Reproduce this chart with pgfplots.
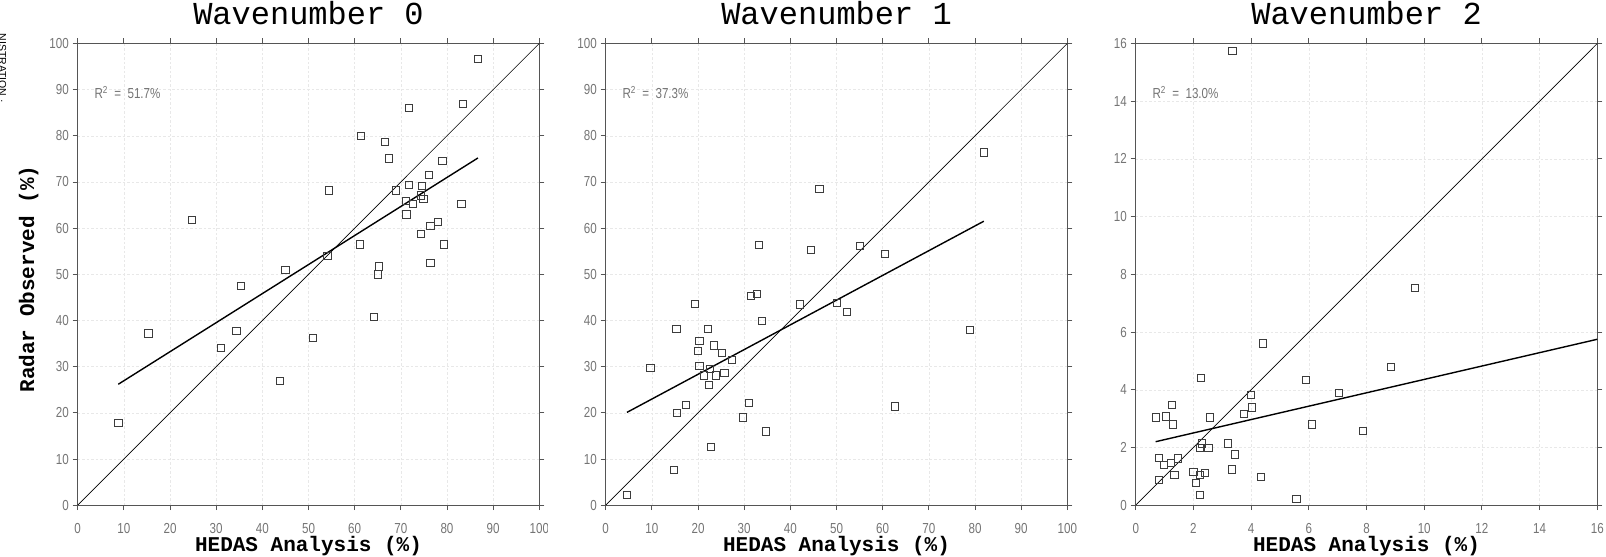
\documentclass[border=0pt]{standalone}
\usepackage{pgfplots}
\pgfplotsset{compat=1.18}
\usepackage{fontspec}
\setmainfont{Liberation Sans}
\newfontfamily\monofont{Liberation Mono}
\newfontfamily\tickfont[FakeStretch=0.8]{Liberation Sans}

\definecolor{axisgray}{HTML}{555555}
\definecolor{ticktext}{HTML}{747474}
\definecolor{gridgray}{HTML}{E8E8E8}
\definecolor{markgray}{HTML}{3C3C3C}

% HEDAS analysis vs radar observed, wavenumber 0
\pgfplotstableread{
x y
86.7 96.7
83.4 86.9
71.7 86.1
61.4 79.9
66.5 78.7
67.5 75.1
79.0 74.6
76.1 71.6
54.4 68.2
69.0 68.2
71.8 69.3
74.5 69.2
74.3 67.1
74.9 66.4
71.1 65.9
72.6 65.3
83.1 65.2
71.2 63.0
24.8 61.8
78.0 61.4
76.4 60.5
74.3 58.7
61.1 56.5
79.3 56.5
54.1 54.0
76.4 52.4
65.2 51.7
45.0 50.9
65.1 50.0
35.3 47.5
64.1 40.7
15.3 37.2
34.4 37.8
50.9 36.3
31.1 34.1
43.8 26.9
8.8 17.8
}\wavezero

% wavenumber 1
\pgfplotstableread{
x y
81.9 76.4
46.3 68.5
33.2 56.3
44.4 55.3
55.0 56.1
60.4 54.5
32.8 45.8
31.5 45.4
19.4 43.6
42.0 43.5
50.0 43.9
52.3 41.9
33.9 40.0
15.3 38.2
22.1 38.2
78.9 37.9
20.3 35.5
23.5 34.6
20.0 33.5
25.2 32.9
27.4 31.4
9.7 29.8
20.3 30.1
22.6 29.6
21.3 28.1
23.9 28.1
25.7 28.6
22.3 26.1
17.4 21.8
31.1 22.2
62.7 21.4
15.4 20.0
29.7 19.0
34.7 16.0
22.7 12.6
14.7 7.7
4.6 2.3
}\waveone

% wavenumber 2
\pgfplotstableread{
x y
3.35 15.73
9.67 7.54
4.41 5.61
8.85 4.80
2.25 4.40
5.89 4.35
7.05 3.90
4.00 3.83
1.24 3.48
4.04 3.39
3.74 3.17
0.69 3.04
1.05 3.08
2.57 3.04
1.30 2.80
6.11 2.80
7.87 2.58
3.19 2.14
2.29 2.14
2.23 1.99
2.52 1.99
3.44 1.76
0.79 1.63
1.46 1.62
1.23 1.46
0.97 1.41
3.33 1.24
2.00 1.14
2.39 1.12
2.23 1.06
1.34 1.04
4.34 0.98
0.81 0.87
2.09 0.77
2.23 0.37
5.57 0.21
}\wavetwo

\pgfplotsset{
  panel/.style={
    scale only axis, width=461.6bp, height=461.7bp,
    anchor=south west,
    axis line style={axisgray, line width=0.9bp},
    tick style={axisgray, line width=0.9bp},
    major tick length=5bp,
    tick align=outside,
    xtick pos=both, ytick pos=both,
    xticklabel pos=lower, yticklabel pos=left,
    grid=major,
    major grid style={gridgray, dash pattern=on 2.5bp off 2bp, line width=0.5bp},
    ticklabel style={font=\fontsize{14.5bp}{16bp}\tickfont, text=ticktext},
    /pgf/number format/assume math mode=true,
    xticklabel style={anchor=north, inner sep=0pt, yshift=-13bp},
    yticklabel style={anchor=east, inner sep=0pt, xshift=-3.7bp},
    title style={at={(0.5,1)}, anchor=base, yshift=12.6bp,
      font=\fontsize{32bp}{36bp}\monofont},
    xlabel style={at={(axis description cs:0.5,0)}, anchor=base, yshift=-46bp,
      font=\fontsize{21bp}{24bp}\monofont\bfseries},
    xlabel={HEDAS Analysis (\%)},
    clip=false,
  },
  pts/.style={only marks, mark=square, mark size=3.6bp,
    mark options={draw=markgray, line width=0.8bp, fill=none}},
  oneone/.style={black, line width=0.6bp},
  fit/.style={black, line width=1.4bp},
}
\tikzset{
  rsq/.style={anchor=west, inner sep=0pt, text=ticktext,
    font=\fontsize{14.5bp}{16bp}\tickfont},
}

\begin{document}
\begin{tikzpicture}[x=1bp, y=1bp]
\useasboundingbox (0,0) rectangle (1606,557);

% rotated logo text clipped by the left edge
\node[rotate=-90, anchor=base west, font=\fontsize{10.5bp}{12bp}\selectfont, text=black]
  at (-1,527) {NISTRATION ·};

\begin{axis}[panel, at={(77.7bp,51.8bp)},
  xmin=0, xmax=100, ymin=0, ymax=100,
  xtick={0,10,...,100}, ytick={0,10,...,100},
  title={Wavenumber 0}]
  \addplot[oneone] coordinates {(0,0) (100,100)};
  \addplot[fit] coordinates {(8.8,26.2) (86.7,75.2)};
  \addplot[pts] table[x=x, y=y] {\wavezero};
  \node[rsq] at (rel axis cs:0.036,0.894) {R\textsuperscript{2}\ \ =\ \ 51.7\%};
\end{axis}
% right-hand tick label of the first panel is trimmed by the next panel
\fill[white] (547.5,10) rectangle (590,44);

\begin{axis}[panel, at={(605.7bp,51.8bp)},
  xmin=0, xmax=100, ymin=0, ymax=100,
  xtick={0,10,...,100}, ytick={0,10,...,100},
  title={Wavenumber 1}]
  \addplot[oneone] coordinates {(0,0) (100,100)};
  \addplot[fit] coordinates {(4.6,20.1) (81.9,61.5)};
  \addplot[pts] table[x=x, y=y] {\waveone};
  \node[rsq] at (rel axis cs:0.036,0.894) {R\textsuperscript{2}\ \ =\ \ 37.3\%};
\end{axis}

\begin{axis}[panel, at={(1135.7bp,51.8bp)},
  xmin=0, xmax=16, ymin=0, ymax=16,
  xtick={0,2,...,16}, ytick={0,2,...,16},
  title={Wavenumber 2}]
  \addplot[oneone] coordinates {(0,0) (16,16)};
  \addplot[fit] coordinates {(0.69,2.2) (16,5.75)};
  \addplot[pts] table[x=x, y=y] {\wavetwo};
  \node[rsq] at (rel axis cs:0.036,0.894) {R\textsuperscript{2}\ \ =\ \ 13.0\%};
\end{axis}

\node[rotate=90, anchor=base, font=\fontsize{21bp}{24bp}\monofont\bfseries]
  at (34,278) {Radar Observed (\%)};
\end{tikzpicture}
\end{document}
